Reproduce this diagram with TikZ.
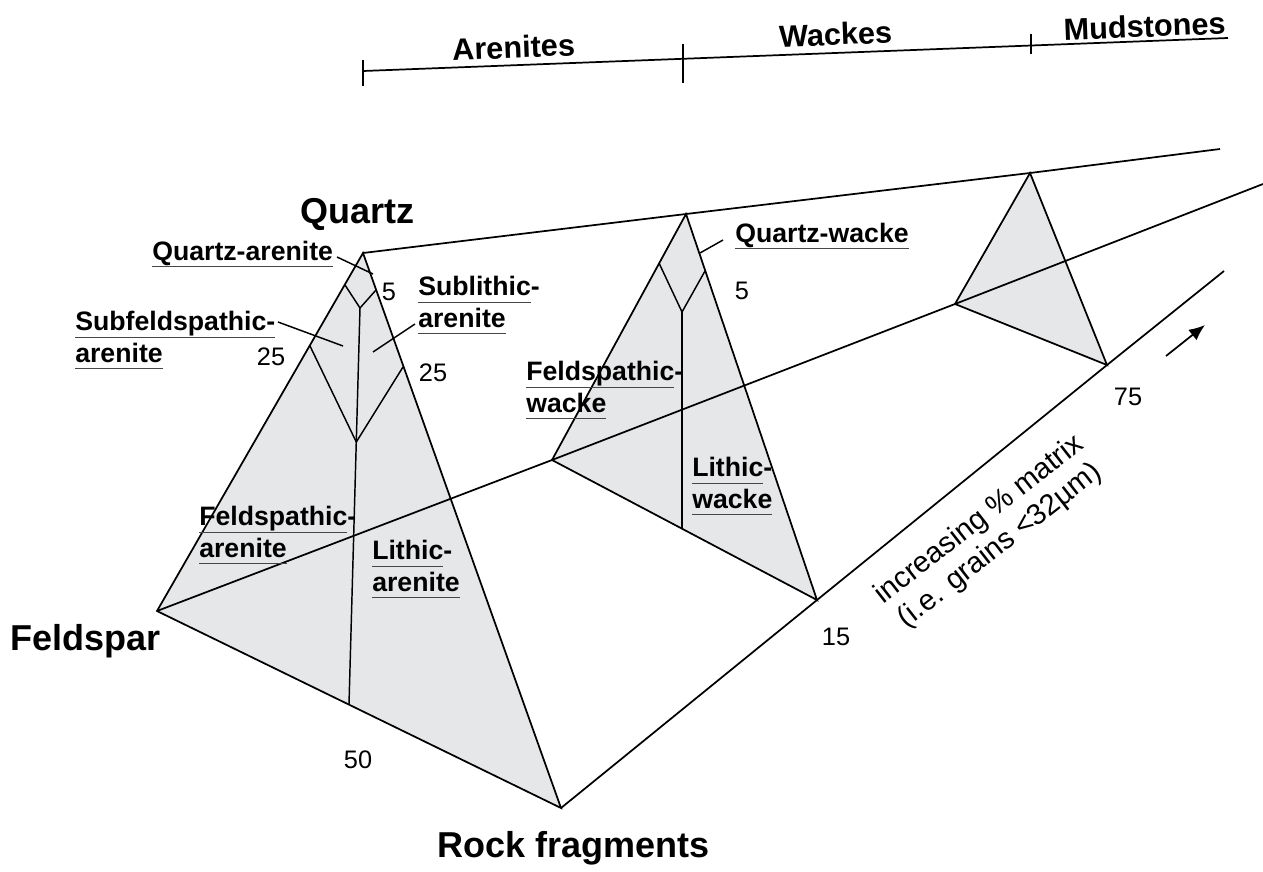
\documentclass[tikz,border=0pt]{standalone}
\usepackage{fontspec}
\setmainfont{Liberation Sans}
\usetikzlibrary{arrows.meta}

\definecolor{trigray}{RGB}{230,231,233}
\definecolor{ulgray}{RGB}{70,70,70}
\newcommand{\uword}[1]{\setbox0\hbox{#1}\rlap{\textcolor{ulgray}{\rule[-0.27em]{\wd0}{0.05em}}}\box0}

\begin{document}
\begin{tikzpicture}[x=0.75pt, y=-0.75pt,
    tri/.style={fill=trigray, draw, line width=1.3pt},
    edge/.style={line width=1.3pt},
    thin/.style={line width=1.1pt},
    lbl/.style={inner sep=0pt, anchor=base west, align=left, font=\bfseries\fontsize{20}{23.5}\selectfont},
    num/.style={inner sep=0pt, font=\fontsize{19}{25}\selectfont},
    big/.style={inner sep=0pt, anchor=base west, font=\bfseries\fontsize{27}{30}\selectfont},
    head/.style={inner sep=0pt, anchor=base, rotate=2.2, font=\bfseries\fontsize{23}{26}\selectfont}]

      \useasboundingbox (0,0) rectangle (1263,871);

      % Triangle corners
      \coordinate (Q1) at (363,253);  \coordinate (F1) at (157,611); \coordinate (R1) at (561,808);
      \coordinate (Q2) at (686,214);  \coordinate (F2) at (552,460); \coordinate (R2) at (817,600);
      \coordinate (Q3) at (1030,173); \coordinate (F3) at (955,304); \coordinate (R3) at (1107,365);
      \coordinate (QE) at (1220,149); \coordinate (FE) at (1263,184); \coordinate (RE) at (1224,271);

      % Triangles
      \foreach \i in {1,2,3}
        \path[tri] (Q\i) -- (F\i) -- (R\i) -- cycle;

      % Tie lines
      \draw[edge] (Q1) -- (Q2) -- (Q3) -- (QE);
      \draw[edge] (F1) -- (F2) -- (F3) -- (FE);
      \draw[edge] (R1) -- (R2) -- (R3) -- (RE);

      % Arenite fields
      \coordinate (A1) at (345,285); \coordinate (A2) at (360,308); \coordinate (A3) at (376,290);
      \coordinate (A4) at (310,346); \coordinate (A5) at (356.3,442); \coordinate (A6) at (403,367);
      \coordinate (A7) at (349,704);
      \draw[thin] (A1) -- (A2) -- (A3);
      \draw[thin] (A4) -- (A5) -- (A6);
      \draw[thin] (A2) -- (A7);

      % Wacke fields
      \coordinate (W1) at (659,263); \coordinate (W2) at (682,312); \coordinate (W3) at (705,271);
      \coordinate (W4) at (682,528);
      \draw[thin] (W1) -- (W2) -- (W3);
      \draw[thin] (W2) -- (W4);

      % Scale bar
      \coordinate (S0) at (363,71); \coordinate (S1) at (683,58.8); \coordinate (S2) at (1031,45.5);
      \coordinate (SE) at (1228,38);
      \draw[edge] (S0) -- (SE);
      \foreach \s/\u/\d in {S0/11/15, S1/15/24, S2/12/8}
        \draw[edge] (\s) ++(0,-\u) -- ++(0,{\u+\d});
      \node[head] (arenites) at (514,58) {Arenites};
      \node[head] (wackes) at (836,45) {Wackes};
      \node[head] (mudstones) at (1145,37) {Mudstones};

      % End members
      \node[big] (quartz) at (300,223) {Quartz};
      \node[big] (feldspar) at (10,650) {Feldspar};
      \node[big, anchor=base] (rock) at (574,857) {Rock fragments};

      % Field names (anchored on the last line)
      \node[lbl] (qa) at (152,260) {\uword{Quartz-arenite}};
      \node[lbl] (sfa) at (75,362) {\uword{Subfeldspathic-}\\\uword{arenite}};
      \node[lbl] (sla) at (418,327) {\uword{Sublithic}-\\\uword{arenite}};
      \node[lbl] (fa) at (199,557) {\uword{Feldspathic}-\\\uword{arenite}};
      \node[lbl] (la) at (372,591) {\uword{Lithic}-\\\uword{arenite}};
      \node[lbl] (qw) at (735,242) {\uword{Quartz-wacke}};
      \node[lbl] (fw) at (526,412) {\uword{Feldspathic}-\\\uword{wacke}};
      \node[lbl] (lw) at (692,508) {\uword{Lithic}-\\\uword{wacke}};

      % Leaders
      \coordinate (qa-a) at (337,257);  \coordinate (qa-b) at (373,274);
      \coordinate (sfa-a) at (278,322); \coordinate (sfa-b) at (343,346);
      \coordinate (sla-a) at (415,324); \coordinate (sla-b) at (373,352);
      \coordinate (qw-a) at (723,240);  \coordinate (qw-b) at (700,253);
      \foreach \l in {qa,sfa,sla,qw}
        \draw[thin] (\l-a) -- (\l-b);

      % Percentages
      \node[num] (n5a) at (389,292) {5};
      \node[num] (n25l) at (271,357) {25};
      \node[num] (n25r) at (433,373) {25};
      \node[num] (n50) at (358,760) {50};
      \node[num] (n5w) at (742,291) {5};
      \node[num] (n15) at (836,637) {15};
      \node[num] (n75) at (1128,397) {75};

      % Matrix axis
      \node[inner sep=0pt, rotate=38, align=center, font=\fontsize{22}{25}\selectfont] (matrix)
        at (990,533) {increasing \% matrix\\(i.e. grains <32µm)};
      \coordinate (ar-a) at (1166,356); \coordinate (ar-b) at (1205,325);
      \draw[edge, -{Latex[length=12pt,width=10pt]}] (ar-a) -- (ar-b);

\end{tikzpicture}
\end{document}
